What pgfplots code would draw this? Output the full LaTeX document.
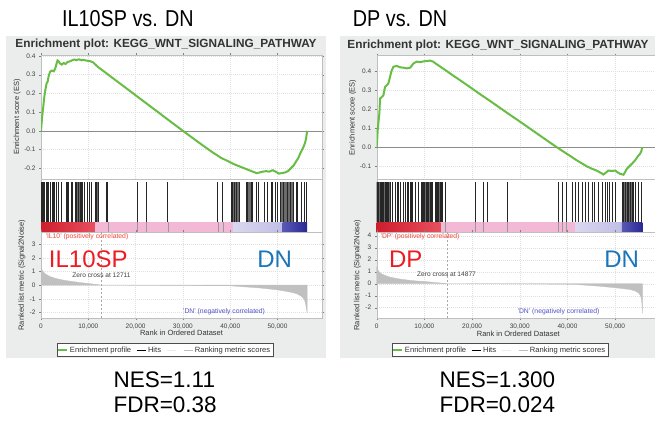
\documentclass[border=0pt]{standalone}
\usepackage{fontspec}
\setmainfont{Liberation Sans}
\usepackage{pgfplots}
\pgfplotsset{compat=1.18}

\definecolor{panelbg}{RGB}{235,236,236}
\definecolor{esgreen}{RGB}{104,189,69}
\definecolor{metric}{RGB}{192,192,192}
\definecolor{bigred}{RGB}{237,28,36}
\definecolor{bigblue}{RGB}{27,117,187}
\definecolor{posred}{RGB}{240,70,60}
\definecolor{negblue}{RGB}{80,80,200}
\definecolor{cbredA}{RGB}{205,30,45}
\definecolor{cbredB}{RGB}{232,80,95}
\definecolor{cbpink}{RGB}{242,184,213}
\definecolor{cblavA}{RGB}{218,215,240}
\definecolor{cblavB}{RGB}{192,190,230}
\definecolor{cbblueA}{RGB}{90,88,180}
\definecolor{cbblueB}{RGB}{42,40,150}

\pgfplotsset{
  gsea/.style={scale only axis, anchor=north west, xmin=0, xmax=59400,
    axis line style={draw=black!25},
    axis background/.style={fill=white},
    tick align=outside, major tick length=2pt, tick style={draw=black!50},
    tick label style={font=\fontsize{6.5}{7}\selectfont, text=black!75},
    /pgf/number format/assume math mode=true,
    scaled x ticks=false, scaled y ticks=false,
    xtick={0,10000,20000,30000,40000,50000},
    grid=major, major grid style={draw=black!12, dash pattern=on 1pt off 1pt},
    label style={font=\fontsize{7.5}{8}\selectfont, text=black!80}},
  espanel/.style={gsea, height=124pt, xticklabels={},
    yticklabel style={/pgf/number format/.cd, fixed, fixed zerofill, precision=1},
    ylabel={Enrichment score (ES)}},
  hitpanel/.style={gsea, height=53pt, ymin=-0.25, ymax=1.075, ytick=\empty,
    xtick=\empty, grid=none},
  rankpanel/.style={gsea, height=86pt, xlabel={Rank in Ordered Dataset},
    ylabel={Ranked list metric (Signal2Noise)}, ytick distance=1,
    x label style={at={(axis description cs:0.5,-0.178)}, anchor=center},
    legend columns=4,
    legend style={anchor=north, draw=black!70, fill=white, inner sep=1pt,
      font=\fontsize{7.6}{8}\selectfont, text=black!80,
      /tikz/every even column/.append style={column sep=3pt}}},
  hitline/.style={ycomb, black!85, line width=1.05pt, mark=none},
  hitblock/.style={fill=black!58, draw=none},
}

\begin{document}
\begin{tikzpicture}
\useasboundingbox (0pt,0pt) rectangle (655pt,-426pt);

% grey panel backgrounds
\fill[panelbg] (6pt,-36pt) rectangle (326pt,-358pt);
\fill[panelbg] (340pt,-36pt) rectangle (662pt,-358pt);

% headings
\node[font=\fontsize{23}{23}\selectfont] at (128pt,-18.5pt) {\scalebox{0.86}[1]{IL10SP vs. DN}};
\node[font=\fontsize{23}{23}\selectfont] at (400pt,-18.5pt) {\scalebox{0.86}[1]{DP vs. DN}};
\node[font=\bfseries\fontsize{11.8}{12}\selectfont, text=black!80] at (166pt,-44pt) {Enrichment plot: KEGG\_WNT\_SIGNALING\_PATHWAY};
\node[font=\bfseries\fontsize{11.8}{12}\selectfont, text=black!80] at (498pt,-45pt) {Enrichment plot: KEGG\_WNT\_SIGNALING\_PATHWAY};

% ================= left: IL10SP vs DN =================
\begin{axis}[espanel, at={(41pt,-55pt)}, width=281pt, ymin=-0.257, ymax=0.405,
  ytick={-0.2,-0.1,...,0.41},
  y label style={at={(axis description cs:-0.085,0.5)}, anchor=center}]
\addplot[black!45, line width=0.5pt] coordinates {(0,0)(59400,0)};
\addplot[esgreen, line width=2pt] coordinates {
(0,0)(150,0.05)(300,0.09)(450,0.12)(600,0.16)(800,0.2)(1000,0.23)(1200,0.255)
(1400,0.262)(1600,0.29)(1900,0.315)(2300,0.322)(2700,0.318)(3000,0.332)(3300,0.36)
(3500,0.376)(3700,0.372)(4000,0.36)(4400,0.354)(4800,0.362)(5200,0.357)(5600,0.368)
(6000,0.37)(6500,0.376)(7000,0.381)(7500,0.378)(8000,0.382)(8500,0.377)(9000,0.379)
(9600,0.375)(10300,0.373)(11000,0.366)(12000,0.342)(14000,0.304)(16000,0.266)
(18000,0.228)(20000,0.19)(22000,0.152)(24000,0.114)(26000,0.076)(28000,0.038)
(30000,0.0)(32000,-0.037)(34000,-0.074)(36000,-0.11)(38000,-0.143)(40000,-0.168)
(41000,-0.18)(42000,-0.19)(43000,-0.2)(44000,-0.21)(45000,-0.22)(45600,-0.226)
(46200,-0.222)(46800,-0.218)(47600,-0.215)(48200,-0.218)(49000,-0.21)(49600,-0.218)
(50300,-0.228)(51000,-0.225)(51600,-0.222)(52200,-0.215)(52800,-0.2)(53400,-0.185)
(54000,-0.16)(54400,-0.145)(54800,-0.12)(55200,-0.1)(55500,-0.085)(55800,-0.065)
(56000,-0.045)(56270,0)};
\end{axis}

\begin{axis}[hitpanel, at={(41pt,-179pt)}, width=281pt]
% colour bar of the ranked list
\addplot[draw=none, left color=cbredA, right color=cbredB] coordinates {(0,-0.25)(11500,-0.25)(11500,0)(0,0)} -- cycle;
\addplot[draw=none, fill=cbpink] coordinates {(11500,-0.25)(40550,-0.25)(40550,0)(11500,0)} -- cycle;
\addplot[draw=none, left color=cblavA, right color=cblavB] coordinates {(40550,-0.25)(51100,-0.25)(51100,0)(40550,0)} -- cycle;
\addplot[draw=none, left color=cbblueA, right color=cbblueB] coordinates {(51100,-0.25)(56270,-0.25)(56270,0)(51100,0)} -- cycle;
\addplot[black!40, line width=0.6pt, unbounded coords=jump] coordinates {
(14150,-0.25)(14150,0)(14150,nan)(20345,-0.25)(20345,0)(20345,nan)(22246,-0.25)(22246,0)(22246,nan)
(26822,-0.25)(26822,0)(26822,nan)(37382,-0.25)(37382,0)(37382,nan)(38438,-0.25)(38438,0)};
% hits
\addplot[hitblock] coordinates {(150,0)(800,0)(800,1)(150,1)} -- cycle;
\addplot[hitblock] coordinates {(2534,0)(2886,0)(2886,1)(2534,1)} -- cycle;
\addplot[hitblock] coordinates {(7251,0)(8518,0)(8518,1)(7251,1)} -- cycle;
\addplot[hitblock] coordinates {(11475,0)(12179,0)(12179,1)(11475,1)} -- cycle;
\addplot[hitblock] coordinates {(40198,0)(41958,0)(41958,1)(40198,1)} -- cycle;
\addplot[hitblock] coordinates {(43366,0)(44422,0)(44422,1)(43366,1)} -- cycle;
\addplot[hitblock] coordinates {(50618,0)(53575,0)(53575,1)(50618,1)} -- cycle;
\addplot[hitline] coordinates {
(211,1)(493,1)(774,1)(1126,1)(1478,1)(2041,1)(2534,1)(2886,1)(3238,1)(3731,1)(4294,1)
(5350,1)(5702,1)(6406,1)(6758,1)(7251,1)(7603,1)(7955,1)(8307,1)(8518,1)(8870,1)(9222,1)
(9926,1)(10278,1)(10630,1)(11475,1)(11827,1)(12179,1)(13798,1)(14150,1)(20345,1)(22246,1)
(26822,1)(37382,1)(38438,1)(40198,1)(40550,1)(40902,1)(41254,1)(41958,1)(43366,1)(43718,1)
(44422,1)(44774,1)(45478,1)(45971,1)(47238,1)(47942,1)(48646,1)(48998,1)(49491,1)(50054,1)
(50618,1)(51322,1)(52026,1)(52730,1)(53434,1)(53926,1)(54278,1)(54982,1)(55686,1)(56038,1)};
\end{axis}

\begin{axis}[rankpanel, at={(41pt,-232pt)}, width=281pt, ymin=-2.4, ymax=3.88,
  y label style={at={(axis description cs:-0.068,0.5)}, anchor=center},
  legend style={at={(0.441,-0.294)}},
  legend image code/.code={\draw[#1] (0pt,0pt) -- (9pt,0pt);}]
\addlegendimage{esgreen, line width=1.2pt}\addlegendentry{Enrichment profile}
\addlegendimage{black, line width=0.8pt}\addlegendentry{Hits}
\addlegendimage{black!8, line width=1pt}\addlegendentry{}
\addlegendimage{black!25, line width=0.8pt}\addlegendentry{Ranking metric scores}
\addplot[forget plot, fill=metric, draw=metric, line width=0.3pt] coordinates {
(0,1.3)(150,1.15)(500,0.95)(1000,0.8)(1500,0.7)(2000,0.62)(3000,0.5)(4000,0.42)
(5000,0.35)(6000,0.3)(7000,0.25)(8000,0.2)(9000,0.16)(10000,0.12)(11000,0.08)
(12000,0.04)(12711,0)(20000,-0.01)(30000,-0.02)(40000,-0.05)(42000,-0.1)(44000,-0.15)
(46000,-0.2)(48000,-0.27)(50000,-0.35)(51500,-0.43)(53000,-0.53)(54000,-0.62)
(55000,-0.8)(55600,-1.0)(55900,-1.3)(56100,-1.7)(56270,-2.05)(56270,0)} \closedcycle;
\addplot[forget plot, black!35, dash pattern=on 2pt off 2pt, line width=0.5pt] coordinates {(12711,-2.4)(12711,3.88)};
\end{axis}

\node[font=\fontsize{6.8}{7}\selectfont, text=posred, anchor=west] at (42pt,-236.7pt) {'IL10' (positively correlated)};
\node[font=\fontsize{6.8}{7}\selectfont, text=negblue] at (224pt,-311.7pt) {'DN' (negatively correlated)};
\node[font=\fontsize{6.6}{7}\selectfont, text=black!75] at (101.5pt,-275pt) {Zero cross at 12711};
\node[font=\fontsize{24}{24}\selectfont, text=bigred] at (88.3pt,-259pt) {IL10SP};
\node[font=\fontsize{24}{24}\selectfont, text=bigblue] at (274.7pt,-259pt) {DN};

% ================= right: DP vs DN =================
\begin{axis}[espanel, at={(376.7pt,-55.5pt)}, width=283.3pt, ymin=-0.17, ymax=0.482,
  ytick={-0.1,0,...,0.41},
  y label style={at={(axis description cs:-0.085,0.5)}, anchor=center}]
\addplot[black!45, line width=0.5pt] coordinates {(0,0)(59400,0)};
\addplot[esgreen, line width=2pt] coordinates {
(0,0)(100,0.04)(200,0.088)(400,0.14)(560,0.177)(700,0.256)(1000,0.262)(1400,0.273)
(1750,0.317)(2100,0.325)(2450,0.335)(2800,0.37)(3100,0.4)(3500,0.423)(4200,0.427)
(4900,0.42)(5600,0.418)(6300,0.414)(7000,0.418)(7400,0.43)(7700,0.44)(8400,0.45)
(9100,0.447)(9800,0.451)(10500,0.453)(11200,0.455)(11800,0.45)(12300,0.441)
(14000,0.412)(16000,0.377)(18000,0.343)(20000,0.308)(22000,0.273)(24000,0.239)
(26000,0.204)(28000,0.169)(30000,0.135)(32000,0.1)(34000,0.065)(36000,0.03)
(37740,0)(40000,-0.037)(42000,-0.07)(44000,-0.1)(45000,-0.112)(46100,-0.123)
(47000,-0.135)(47530,-0.144)(48000,-0.135)(48570,-0.123)(49300,-0.125)(50000,-0.123)
(50500,-0.132)(51000,-0.14)(51750,-0.145)(52100,-0.13)(52400,-0.115)(53100,-0.097)
(53600,-0.085)(54150,-0.07)(54700,-0.05)(55200,-0.035)(55500,-0.02)(55700,0)};
\end{axis}

\begin{axis}[hitpanel, at={(376.7pt,-179pt)}, width=283.3pt]
\addplot[draw=none, left color=cbredA, right color=cbredB] coordinates {(0,-0.25)(13400,-0.25)(13400,0)(0,0)} -- cycle;
\addplot[draw=none, fill=cbpink] coordinates {(13400,-0.25)(41650,-0.25)(41650,0)(13400,0)} -- cycle;
\addplot[draw=none, left color=cblavA, right color=cblavB] coordinates {(41650,-0.25)(51400,-0.25)(51400,0)(41650,0)} -- cycle;
\addplot[draw=none, left color=cbblueA, right color=cbblueB] coordinates {(51400,-0.25)(55700,-0.25)(55700,0)(51400,0)} -- cycle;
\addplot[black!40, line width=0.6pt, unbounded coords=jump] coordinates {
(14393,-0.25)(14393,0)(14393,nan)(20684,-0.25)(20684,0)(20684,nan)(22432,-0.25)(22432,0)(22432,nan)
(27325,-0.25)(27325,0)(27325,nan)(38159,-0.25)(38159,0)(38159,nan)(38858,-0.25)(38858,0)(38858,nan)
(39697,-0.25)(39697,0)};
\addplot[hitblock] coordinates {(0,0)(2900,0)(2900,1)(0,1)} -- cycle;
\addplot[hitblock] coordinates {(9360,0)(11248,0)(11248,1)(9360,1)} -- cycle;
\addplot[hitblock] coordinates {(12296,0)(13345,0)(13345,1)(12296,1)} -- cycle;
\addplot[hitblock] coordinates {(51440,0)(53887,0)(53887,1)(51440,1)} -- cycle;
\addplot[hitline] coordinates {
(64,1)(413,1)(763,1)(1112,1)(1462,1)(1811,1)(2161,1)(2510,1)(2860,1)(3349,1)(3908,1)
(4467,1)(4957,1)(5656,1)(6005,1)(6564,1)(7054,1)(7403,1)(8102,1)(8801,1)(9360,1)(9710,1)
(10060,1)(10409,1)(10758,1)(11248,1)(11597,1)(12296,1)(12646,1)(12995,1)(13345,1)(13694,1)
(14393,1)(20684,1)(22432,1)(23131,1)(27325,1)(38159,1)(38858,1)(39697,1)(40955,1)(41654,1)
(42353,1)(43052,1)(43751,1)(44310,1)(45149,1)(45708,1)(46547,1)(47246,1)(47945,1)(48295,1)
(48784,1)(49343,1)(50042,1)(51440,1)(51790,1)(52139,1)(52489,1)(52838,1)(53188,1)(53537,1)
(53887,1)(54236,1)(54935,1)(55494,1)};
\end{axis}

\begin{axis}[rankpanel, at={(376.7pt,-232pt)}, width=283.3pt, ymin=-2.86, ymax=4.31,
  y label style={at={(axis description cs:-0.068,0.5)}, anchor=center},
  legend style={at={(0.435,-0.294)}},
  legend image code/.code={\draw[#1] (0pt,0pt) -- (9pt,0pt);}]
\addlegendimage{esgreen, line width=1.2pt}\addlegendentry{Enrichment profile}
\addlegendimage{black, line width=0.8pt}\addlegendentry{Hits}
\addlegendimage{black!8, line width=1pt}\addlegendentry{}
\addlegendimage{black!25, line width=0.8pt}\addlegendentry{Ranking metric scores}
\addplot[forget plot, fill=metric, draw=metric, line width=0.3pt] coordinates {
(0,1.4)(150,1.2)(500,1.0)(1000,0.82)(2000,0.65)(3000,0.53)(4000,0.45)(5000,0.38)
(6000,0.33)(7000,0.28)(8000,0.24)(9000,0.21)(10000,0.18)(11000,0.15)(12000,0.11)
(13000,0.08)(14000,0.04)(14877,0)(25000,-0.01)(35000,-0.03)(41000,-0.05)(43000,-0.1)
(45000,-0.16)(47000,-0.22)(49000,-0.3)(51000,-0.38)(53000,-0.48)(54200,-0.6)
(55000,-0.8)(55400,-1.1)(55600,-1.6)(55700,-2.45)(55700,0)} \closedcycle;
\addplot[forget plot, black!35, dash pattern=on 2pt off 2pt, line width=0.5pt] coordinates {(14877,-2.86)(14877,4.31)};
\end{axis}

\node[font=\fontsize{6.8}{7}\selectfont, text=posred, anchor=west] at (377pt,-236.7pt) {'DP' (positively correlated)};
\node[font=\fontsize{6.8}{7}\selectfont, text=negblue] at (558.5pt,-311.7pt) {'DN' (negatively correlated)};
\node[font=\fontsize{6.6}{7}\selectfont, text=black!75] at (446.5pt,-274pt) {Zero cross at 14877};
\node[font=\fontsize{24}{24}\selectfont, text=bigred] at (405.8pt,-259pt) {DP};
\node[font=\fontsize{24}{24}\selectfont, text=bigblue] at (621.7pt,-259pt) {DN};

% statistics
\node[font=\fontsize{22.5}{22.5}\selectfont, anchor=west] at (110pt,-380pt) {NES=1.11};
\node[font=\fontsize{22.5}{22.5}\selectfont, anchor=west] at (110pt,-405pt) {FDR=0.38};
\node[font=\fontsize{22.5}{22.5}\selectfont, anchor=west] at (436pt,-380pt) {NES=1.300};
\node[font=\fontsize{22.5}{22.5}\selectfont, anchor=west] at (436pt,-405pt) {FDR=0.024};
\end{tikzpicture}
\end{document}
